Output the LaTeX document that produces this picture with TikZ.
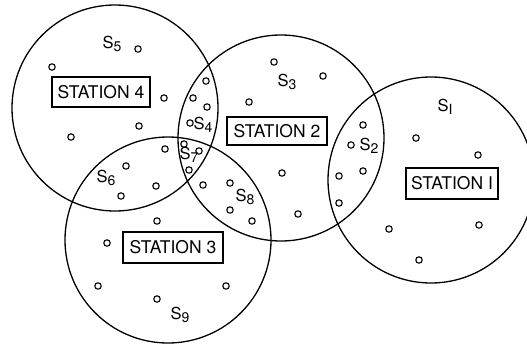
\documentclass[tikz,border=0pt]{standalone}
\usepackage{fontspec}
\setmainfont{TeX Gyre Heros}
% site label: S with a lowered index
\newcommand\sitename[1]{S\raisebox{-0.42ex}{\fontsize{14}{14}\selectfont #1}}
\begin{document}
\begin{tikzpicture}[x=1pt,y=-1pt,
  coverage/.style={circle,draw,line width=1.3pt,inner sep=0pt,minimum size=206pt},
  stationbox/.style={draw,line width=1.1pt,inner sep=0pt,minimum width=98pt,minimum height=30pt,
    font=\fontsize{17.5}{17.5}\selectfont},
  sitelabel/.style={inner sep=0pt,font=\fontsize{16.5}{16.5}\selectfont},
  sensor/.style={line width=1.1pt}]
\useasboundingbox (0,0) rectangle (527,348);
\clip (0,0) rectangle (527,348);

% coverage areas of the four stations
\node[coverage] (c4) at (115,108) {};
\node[coverage] (c2) at (281,138) {};
\node[coverage] (c1) at (431,180) {};
\node[coverage] (c3) at (168,240) {};

% station labels
\node[stationbox] (st4) at (101,92) {STATION 4};
\node[stationbox,minimum width=100pt,minimum height=28pt] (st2) at (277,131) {STATION 2};
\node[stationbox,minimum width=92pt,minimum height=31pt] (st1) at (452,183.5) {STATION I};
\node[stationbox,minimum width=100pt,minimum height=31pt] (st3) at (173,247.5) {STATION 3};

% region labels
\node[sitelabel] (s5) at (112,44) {\sitename{5}};
\node[sitelabel] (s3) at (287,82) {\sitename{3}};
\node[sitelabel] (s4) at (203,125) {\sitename{4}};
\node[sitelabel] (s7) at (189,155) {\sitename{7}};
\node[sitelabel] (s6) at (106,178) {\sitename{6}};
\node[sitelabel] (s8) at (245,197) {\sitename{8}};
\node[sitelabel] (s9) at (180,315) {\sitename{9}};
\node[sitelabel] (s2) at (369,146) {\sitename{2}};
\node[sitelabel] (s1) at (445,107) {\sitename{I}};

% sensors
\foreach \p in {(138,49),(52,67),(164,98),(139,126),(71,137),
  (206,81),(193,98),(207,107),(190,123),
  (184,144),(199,151),(189,170),(165,149),(126,166),
  (249,102),(274,62),(323,76),(282,173),
  (363,125),(351,145),(363,171),(339,176),(339,203),(298,214),
  (252,221),(230,183),(230,210),(203,185),
  (156,186),(121,196),(157,221),(107,243),(98,286),(157,299),(226,286),
  (416,138),(478,155),(479,225),(389,229),(419,260)}
  \draw[sensor] \p circle (3.2);
\end{tikzpicture}
\end{document}
